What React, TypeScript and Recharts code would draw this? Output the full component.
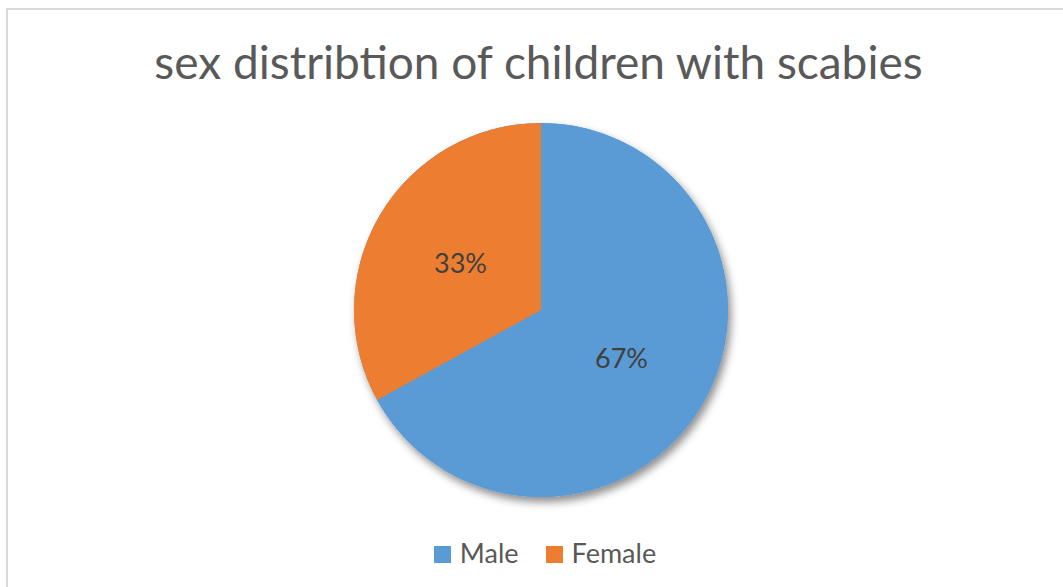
import { PieChart, Pie, Cell } from "recharts";

const categories = ["Male", "Female"];
const shares = [67, 33];
const colors = ["#5B9BD5", "#ED7D31"];

const data = categories.map((name, i) => ({ name, value: shares[i] }));
const total = [{ name: "all", value: shares.reduce((a, b) => a + b, 0) }];

const RAD = Math.PI / 180;

const renderLabel = (props: any) => {
  const { cx, cy, midAngle, outerRadius, value } = props;
  const r = outerRadius * 0.5;
  const x = cx + r * Math.cos(-midAngle * RAD);
  const y = cy + r * Math.sin(-midAngle * RAD);
  return (
    <text
      x={x}
      y={y}
      textAnchor="middle"
      dominantBaseline="central"
      fill="#404040"
      fontSize={27}
      fontFamily="Lato, sans-serif"
    >
      {value}%
    </text>
  );
};

const App = () => {
  return (
    <div
      style={{
        position: "absolute",
        left: 0,
        top: 0,
        width: 1063,
        height: 587,
        background: "#fff",
        overflow: "hidden",
        fontFamily: "Lato, sans-serif",
      }}
    >
      <div
        style={{
          position: "absolute",
          left: 6,
          top: 8,
          width: 1100,
          height: 640,
          border: "2px solid #d9d9d9",
        }}
      />
      <div
        style={{
          position: "absolute",
          left: 0,
          top: 34,
          width: 1077,
          textAlign: "center",
          fontSize: 46,
          color: "#595959",
          whiteSpace: "nowrap",
        }}
      >
        sex distribtion of children with scabies
      </div>
      <div style={{ position: "absolute", left: 0, top: 0 }}>
        <PieChart width={1063} height={587} margin={{ top: 0, right: 0, bottom: 0, left: 0 }}>
          <defs>
            <filter id="pieShadow" x="-20%" y="-20%" width="140%" height="140%">
              <feDropShadow dx="3" dy="5" stdDeviation="4" floodColor="#000" floodOpacity="0.45" />
            </filter>
          </defs>
          <Pie
            data={total}
            dataKey="value"
            cx={541}
            cy={310}
            outerRadius={187}
            startAngle={90}
            endAngle={-270}
            stroke="none"
            fill="#5B9BD5"
            style={{ filter: "url(#pieShadow)" }}
            isAnimationActive={false}
          />
          <Pie
            data={data}
            dataKey="value"
            cx={541}
            cy={310}
            outerRadius={187}
            startAngle={90}
            endAngle={-270}
            stroke="none"
            label={renderLabel}
            labelLine={false}
            isAnimationActive={false}
          >
            {data.map((d, i) => (
              <Cell key={d.name} fill={colors[i]} />
            ))}
          </Pie>
        </PieChart>
      </div>
      <div
        style={{
          position: "absolute",
          left: 0,
          top: 536,
          width: 1090,
          display: "flex",
          justifyContent: "center",
          fontSize: 27,
          color: "#595959",
        }}
      >
        {data.map((d, i) => (
          <div key={d.name} style={{ display: "flex", alignItems: "center", marginRight: i === 0 ? 27 : 0 }}>
            <span
              style={{
                width: 17,
                height: 17,
                background: colors[i],
                marginRight: 9,
                marginTop: 3,
                display: "inline-block",
              }}
            />
            {d.name}
          </div>
        ))}
      </div>
    </div>
  );
};

export default App;
